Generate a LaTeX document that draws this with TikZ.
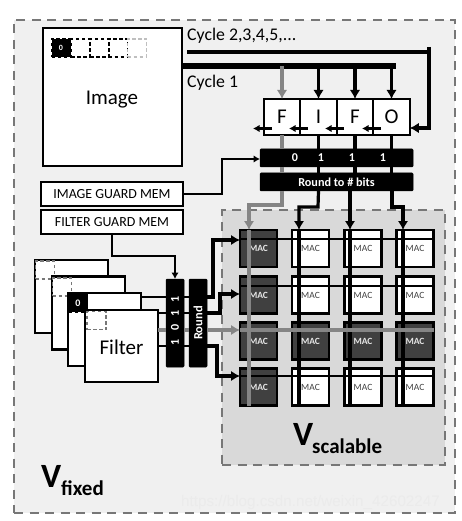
\documentclass[tikz,border=0pt]{standalone}
\usepackage{fontspec}
\setmainfont{Carlito}
\newfontfamily\wmfont{Liberation Sans}
\usetikzlibrary{arrows.meta,calc}
\definecolor{outerbg}{HTML}{F0F0F0}
\definecolor{innerbg}{HTML}{D9D9D9}
\definecolor{dashgray}{HTML}{777777}
\definecolor{macdark}{HTML}{404040}
\definecolor{graywire}{HTML}{858585}
\tikzset{
  box/.style={draw=black,line width=2.4pt,fill=white,inner sep=0pt,outer sep=0pt},
  blackbar/.style={fill=black,draw=black,line width=.5pt,rounded corners=1pt,inner sep=0pt,outer sep=0pt,text=white,font=\bfseries},
  macw/.style={box,minimum width=37pt,minimum height=37pt,font=\fontsize{9.5}{10}\selectfont,text=black!75},
  macd/.style={box,fill=macdark,minimum width=37pt,minimum height=37pt,font=\fontsize{9.5}{10}\selectfont\bfseries,text=white!90!black},
  cell/.style={box,minimum width=36.5pt,minimum height=36pt,font=\fontsize{21}{22}\selectfont},
  frame/.style={draw=dashgray,line width=1.8pt,dash pattern=on 9pt off 6.5pt},
  smalldash/.style={draw=black,line width=1.3pt,dash pattern=on 3.5pt off 2.5pt,inner sep=0pt,outer sep=0pt,minimum width=19pt,minimum height=18pt},
  wire/.style={draw=black,line width=3.2pt},
  thin wire/.style={draw=black,line width=2.6pt},
  guard wire/.style={draw=black,line width=1.9pt},
  gwire/.style={draw=graywire,line width=3.2pt},
  tip/.style={-{Latex[length=9pt,width=10.5pt]}},
  smalltip/.style={-{Latex[length=6.5pt,width=7.5pt]}},
  bitnum/.style={text=white,font=\fontsize{12}{13}\selectfont\bfseries},
}
\begin{document}
\begin{tikzpicture}[x=1pt,y=-1pt]
\useasboundingbox (0,0) rectangle (462,521);
\fill[white] (0,0) rectangle (462,521);
% frames
\node[frame,fill=outerbg,inner sep=0pt,minimum width=441pt,minimum height=493pt] (fixed) at (234.5,266.5) {};
\node[frame,fill=innerbg,inner sep=0pt,minimum width=223pt,minimum height=255pt] (scal) at (333.5,337.5) {};
% image
\node[box,minimum width=139pt,minimum height=138pt] (image) at (112.5,97) {};
\node[font=\fontsize{21}{22}\selectfont] (imagetxt) at (112,100) {Image};
\node[smalldash,fill=black,text=white,font=\fontsize{8}{9}\selectfont\bfseries] (p0) at (61,48) {0};
\node[smalldash] (p1) at (80.5,48) {};
\node[smalldash] (p2) at (99.5,48) {};
\node[smalldash] (p3) at (118,48) {};
\node[smalldash,draw=black!25] (p4) at (137,48) {};
% labels
\node[anchor=west,inner sep=0pt,font=\fontsize{17.8}{18}\selectfont] (c2) at (187,36) {Cycle 2,3,4,5,...};
\node[anchor=west,inner sep=0pt,font=\fontsize{17.8}{18}\selectfont] (c1) at (187,83) {Cycle 1};
% guard mems
\node[box,minimum width=142pt,minimum height=24pt,font=\fontsize{13.9}{14}\selectfont] (igm) at (112,194) {IMAGE GUARD MEM};
\node[box,minimum width=142pt,minimum height=24pt,font=\fontsize{13.9}{14}\selectfont] (fgm) at (112,222) {FILTER GUARD MEM};
% fifo
\node[cell] (f1) at (282,117) {F};
\node[cell] (f2) at (318.5,117) {I};
\node[cell] (f3) at (355,117) {F};
\node[cell] (f4) at (391.5,117) {O};
% bit bars
\node[blackbar,minimum width=153pt,minimum height=18pt] (bits) at (336.5,158) {};
\node[bitnum] (b0) at (295,158) {0};
\node[bitnum] (b1) at (321,158) {1};
\node[bitnum] (b2) at (352,158) {1};
\node[bitnum] (b3) at (383,158) {1};
\node[blackbar,minimum width=153pt,minimum height=18pt,font=\fontsize{12.2}{13}\selectfont\bfseries] (round) at (336.5,182) {Round to \# bits};
% filters
\node[box,minimum width=73pt,minimum height=73pt] (fl1) at (71.5,296.5) {};
\node[smalldash,draw=dashgray,fill=white] (s1) at (45,270) {};
\node[box,minimum width=73pt,minimum height=73pt] (fl2) at (88.5,313) {};
\node[smalldash,draw=dashgray,fill=white] (s2) at (62,287) {};
\node[box,minimum width=73pt,minimum height=73pt] (fl3) at (104.5,329.5) {};
\node[smalldash,fill=black,text=white,font=\fontsize{10}{11}\selectfont\bfseries] (s3) at (78,303) {0};
\node[box,minimum width=73pt,minimum height=72pt] (fl4) at (121.5,346) {};
\node[font=\fontsize{21}{22}\selectfont] (fltxt) at (121.5,347) {Filter};
\node[smalldash,draw=dashgray] (s4) at (96.5,320.5) {};
% vertical bars
\node[blackbar,minimum width=18pt,minimum height=88pt] (vb) at (175,323) {};
\node[bitnum,rotate=90] (v0) at (175,342) {1};
\node[bitnum,rotate=90] (v1) at (175,327) {0};
\node[bitnum,rotate=90] (v2) at (175,313) {1};
\node[bitnum,rotate=90] (v3) at (175,299) {1};
\node[blackbar,minimum width=18pt,minimum height=88pt] (vr) at (198,323) {};
\node[text=white,rotate=90,font=\fontsize{12.5}{13}\selectfont\bfseries] (vrt) at (198,323) {Round};
% MAC array
\foreach \c/\x in {1/258.5,2/310.5,3/363,4/415}{
  \foreach \r/\y in {1/248.5,2/295,3/341,4/387}{
    \ifnum\c=1 \node[macd] (m\c\r) at (\x,\y) {MAC};
    \else\ifnum\r=3 \node[macd] (m\c\r) at (\x,\y) {MAC};
    \else \node[macw] (m\c\r) at (\x,\y) {MAC};
    \fi\fi
  }
}
% way points
\coordinate (c1x) at (249,230);
\coordinate (c2x) at (299,230);
\coordinate (c3x) at (350,230);
\coordinate (c4x) at (403,230);
% row wires through the MACs
\draw[thin wire] (240,239) -- (m41.east |- 0,239);
\draw[thin wire] (240,286) -- (m42.east |- 0,286);
\draw[thin wire] (240,376) -- (m44.east |- 0,376);
% column wires
\draw[wire] (c2x) -- (299,406);
\draw[wire] (c3x) -- (350,406);
\draw[wire] (c4x) -- (403,406);
\draw[gwire] (c1x) -- (249,406);
\draw[gwire] (240,330) -- (434,330);
% cycle lines
\draw[wire,line cap=butt] (c2.west |- 0,52) -- (429,52);
\draw[wire,tip] (429,47) -- (429,128) -- (f4.east |- 0,128);
\draw[draw=black,line width=6.5pt] (image.east |- 0,66) -- (396,66);
\draw[gwire,tip] (f1.north |- 0,66) -- (f1.north);
\draw[wire,tip] (f2.north |- 0,66) -- (f2.north);
\draw[wire,tip] (f3.north |- 0,66) -- (f3.north);
\draw[wire,tip] (f4.north |- 0,66) -- (f4.north);
% fifo shift arrows
\draw[wire,smalltip] (272,128.5) -- (253,128.5);
\draw[wire,smalltip] (308,128.5) -- (289,128.5);
\draw[wire,smalltip] (344,128.5) -- (325,128.5);
\draw[wire,smalltip] (381,128.5) -- (362,128.5);
% fifo to bars
\draw[gwire] (f1.south) -- (f1.south |- bits.north);
\draw[wire] (f2.south) -- (f2.south |- bits.north);
\draw[wire] (f3.south) -- (f3.south |- bits.north);
\draw[wire] (f4.south) -- (f4.south |- bits.north);
\draw[gwire] (f1.south |- bits.south) -- (f1.south |- round.north);
\draw[wire] (f2.south |- bits.south) -- (f2.south |- round.north);
\draw[wire] (f3.south |- bits.south) -- (f3.south |- round.north);
\draw[wire] (f4.south |- bits.south) -- (f4.south |- round.north);
% round to columns
\draw[gwire,tip] (f1.south |- round.south) -- (282,205) -- (249,205) -- (c1x);
\draw[wire,tip] (f2.south |- round.south) -- (318,207) -- (299,207) -- (c2x);
\draw[wire,tip] (350,191) -- (c3x);
\draw[wire,tip] (392,191) -- (392,207) -- (403,207) -- (c4x);
% guard mem wires
\draw[guard wire,smalltip] (igm.east) -- (222,194) -- (222,159) -- (bits.west |- 0,159);
\draw[guard wire,smalltip] (fgm.south) -- (112,256) -- (175,256) -- (vb.north);
% filters to vertical bars
\draw[thin wire] (fl3.east |- 0,297) -- (vb.west |- 0,297);
\draw[thin wire] (fl4.east |- 0,313) -- (vb.west |- 0,313);
\draw[gwire] (fl4.east |- 0,330) -- (vb.west |- 0,330);
\draw[thin wire] (fl4.east |- 0,346) -- (vb.west |- 0,346);
\draw[thin wire] (vb.east |- 0,297) -- (vr.west |- 0,297);
\draw[thin wire] (vb.east |- 0,313) -- (vr.west |- 0,313);
\draw[gwire] (vb.east |- 0,330) -- (vr.west |- 0,330);
\draw[thin wire] (vb.east |- 0,346) -- (vr.west |- 0,346);
% round to rows
\draw[wire,tip] (vr.east |- 0,297) -- (213,297) -- (213,240) -- (m11.west |- 0,240);
\draw[wire,tip] (vr.east |- 0,313) -- (220,313) -- (220,294) -- (m12.west |- 0,294);
\draw[gwire,tip] (vr.east |- 0,330) -- (m13.west |- 0,330);
\draw[wire,tip] (vr.east |- 0,346) -- (217,346) -- (217,376) -- (m14.west |- 0,376);
% voltage labels
\node[anchor=base west,inner sep=0pt,font=\fontsize{34}{34}\selectfont\bfseries] (vf) at (41,487) {V};
\node[anchor=base west,inner sep=0pt,font=\fontsize{21}{22}\selectfont\bfseries] (vfs) at (61,495) {fixed};
\node[anchor=base west,inner sep=0pt,font=\fontsize{34}{34}\selectfont\bfseries] (vs) at (293,445) {V};
\node[anchor=base west,inner sep=0pt,font=\fontsize{21}{22}\selectfont\bfseries] (vss) at (312,453) {scalable};
% watermark
\node[anchor=west,inner sep=0pt,text=white!92!black,font=\wmfont\fontsize{15.2}{16}\selectfont] (wm) at (181,503) {https://blog.csdn.net/weixin\_42602247};
\end{tikzpicture}
\end{document}
